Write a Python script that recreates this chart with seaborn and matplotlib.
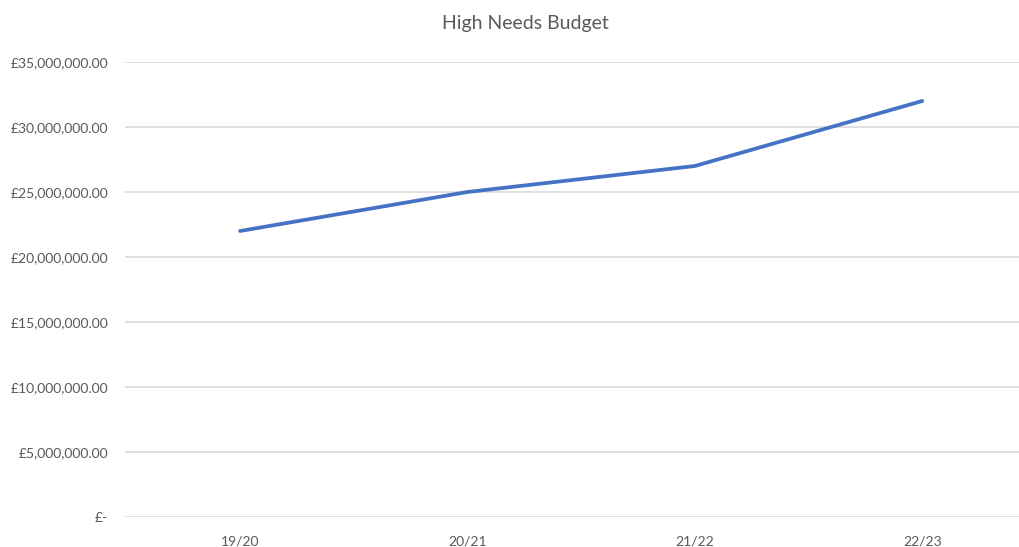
import matplotlib
matplotlib.use("Agg")
import matplotlib.pyplot as plt
from matplotlib.ticker import FuncFormatter
import seaborn as sns
import pandas as pd

# values
years = ["19/20", "20/21", "21/22", "22/23"]
budget = [22000000, 25000000, 27000000, 32000000]

df = pd.DataFrame({"year": years, "budget": budget})

sns.set_style("white")
plt.rcParams["font.family"] = ["Lato", "DejaVu Sans"]

fig = plt.figure(figsize=(10.2, 5.47), dpi=100)
ax = fig.add_axes([125 / 1020, 1 - 517 / 547, 895 / 1020, 455 / 547])

sns.lineplot(data=df, x="year", y="budget", ax=ax, color="#4472C4",
             linewidth=2.7, sort=False)

ax.set_ylim(0, 35000000)
ax.set_yticks(range(0, 35000001, 5000000))
ax.set_xlim(-0.506, 3.43)


def money(v, pos):
    if v == 0:
        return "£-"
    return f"£{v:,.2f}"


ax.yaxis.set_major_formatter(FuncFormatter(money))
ax.grid(axis="y", color="#d9d9d9", linewidth=1.2)
ax.grid(axis="x", visible=False)
for s in ax.spines.values():
    s.set_visible(False)
ax.tick_params(axis="y", length=0, pad=12, labelsize=10, labelcolor="#595959")
ax.tick_params(axis="x", length=0, pad=13, labelsize=10, labelcolor="#595959")
ax.set_xlabel("")
ax.set_ylabel("")

fig.text(525 / 1020, 1 - 24 / 547, "High Needs Budget", ha="center", va="center",
         fontsize=14, color="#595959")

fig.savefig("out.png", dpi=100)
